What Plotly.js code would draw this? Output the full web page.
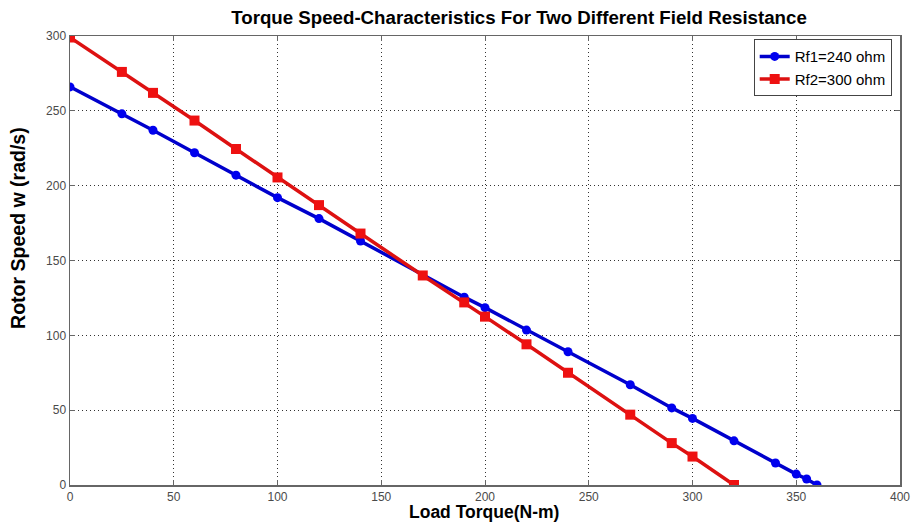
<!DOCTYPE html>
<html>
<head>
<meta charset="utf-8">
<script src="https://cdn.plot.ly/plotly-3.0.1.min.js"></script>
<style>html,body{margin:0;padding:0;background:#fff;}#chart{width:917px;height:522px;}</style>
</head>
<body>
<div id="chart"></div>
<script>
const torque1 = [0, 25, 40, 60, 80, 100, 120, 140, 170, 190, 200, 220, 240, 270, 290, 300, 320, 340, 350, 355, 360];
const speed1  = [266, 248, 237, 222, 207, 192, 178, 163, 140, 125.5, 118.5, 103.5, 89, 67, 51.5, 44.5, 29.5, 14.7, 7.3, 4, 0];
const torque2 = [0, 25, 40, 60, 80, 100, 120, 140, 170, 190, 200, 220, 240, 270, 290, 300, 320];
const speed2  = [299, 276, 262, 243.5, 224.5, 205.5, 187, 168, 140, 122, 112.5, 94, 75, 47, 28, 19, 0];
const name1 = 'Rf1=240 ohm';
const name2 = 'Rf2=300 ohm';
const xTicks = [0, 50, 100, 150, 200, 250, 300, 350, 400];
const yTicks = [0, 50, 100, 150, 200, 250, 300];
const chartTitle = 'Torque Speed-Characteristics For Two Different Field Resistance';
const xTitle = 'Load Torque(N-m)';
const yTitle = 'Rotor Speed w (rad/s)';

const tickFont = {family: '"Liberation Sans", Arial, sans-serif', size: 12, color: '#4a4a4a'};
const yTitleFont = {family: '"Liberation Sans", Arial, sans-serif', size: 19.5, color: '#000', weight: 'bold'};
const xTitleFont = {family: '"Liberation Sans", Arial, sans-serif', size: 17.5, color: '#000', weight: 'bold'};

const traces = [
  {x: torque1, y: speed1, name: name1, type: 'scatter', mode: 'lines+markers',
   line: {color: '#0000cc', width: 3.5}, marker: {color: '#0000ee', symbol: 'circle', size: 9}},
  {x: torque2, y: speed2, name: name2, type: 'scatter', mode: 'lines+markers',
   line: {color: '#dd1111', width: 3.5}, marker: {color: '#ee1111', symbol: 'square', size: 10}}
];

const axisCommon = {
  showgrid: true, gridcolor: '#333', griddash: '1px,3px', gridwidth: 1,
  showline: true, linecolor: '#666', linewidth: 1.5, mirror: 'ticks',
  ticks: 'inside', ticklen: 5, tickcolor: '#666',
  zeroline: false, tickfont: tickFont
};

const layout = {
  width: 917, height: 522,
  margin: {l: 70, r: 17, t: 36, b: 37},
  paper_bgcolor: '#fff', plot_bgcolor: '#fff',
  title: {text: chartTitle,
          font: {family: '"Liberation Sans", Arial, sans-serif', size: 18.7, color: '#000', weight: 'bold'},
          x: 0.566, xanchor: 'center', y: 0.966, yanchor: 'middle'},
  xaxis: Object.assign({}, axisCommon, {range: [0, 400], tickvals: xTicks}),
  yaxis: Object.assign({}, axisCommon, {range: [0, 300], tickvals: yTicks}),
  annotations: [
    {text: yTitle, xref: 'paper', yref: 'paper', x: -0.063, y: 0.572,
     xanchor: 'center', yanchor: 'middle', textangle: -90, showarrow: false, font: yTitleFont},
    {text: xTitle, xref: 'paper', yref: 'paper', x: 0.499, y: -0.061,
     xanchor: 'center', yanchor: 'middle', showarrow: false, font: xTitleFont, borderpad: 0}
  ],
  showlegend: true,
  legend: {x: 0.99, xanchor: 'right', y: 0.993, yanchor: 'top',
           bgcolor: '#fff', bordercolor: '#444', borderwidth: 1,
           font: {family: '"Liberation Sans", Arial, sans-serif', size: 15, color: '#000'},
           tracegroupgap: 0}
};

Plotly.newPlot('chart', traces, layout, {displayModeBar: false, staticPlot: true});
</script>
</body>
</html>
